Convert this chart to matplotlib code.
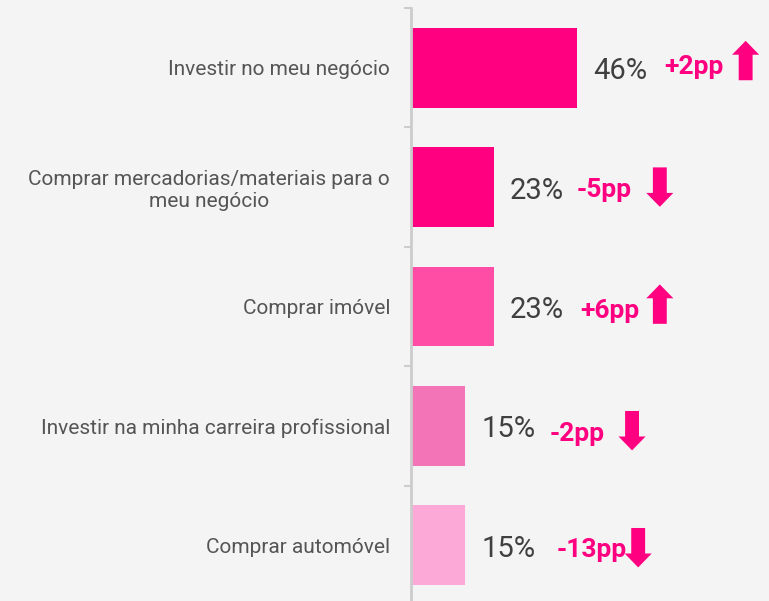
import matplotlib
matplotlib.use("Agg")
import matplotlib.pyplot as plt

# --> chart data
categories = ["Investir no meu negócio",
              "Comprar mercadorias/materiais para o\nmeu negócio",
              "Comprar imóvel",
              "Investir na minha carreira profissional",
              "Comprar automóvel"]
values = [46, 23, 23, 15, 15]
changes = ["+2pp", "-5pp", "+6pp", "-2pp", "-13pp"]
directions = [1, -1, 1, -1, -1]   # 1 = up arrow, -1 = down arrow
bar_colors = ["#FF0080", "#FF0080", "#FF4DA6", "#F474B8", "#FCA9D8"]

# --> hand placed annotation layout (data x, pixel y offsets)
change_x = [70.3, 45.9, 46.8, 38.4, 40.3]
change_dy = [6.5, 10, 12, 15, 12]
arrow_x = [92.8, 69.0, 69.0, 61.3, 63.0]
arrow_dy = [-0.06, 0.0, -0.02, 0.04, 0.02]

pink = "#FF0080"
bg = "#F4F4F4"

plt.rcParams['font.family'] = ['Roboto', 'DejaVu Sans']

fig = plt.figure(figsize=(7.69, 6.01), dpi=100, facecolor=bg)
ax = fig.add_axes([411 / 769, -4 / 601, 357 / 769, 597 / 601])
ax.set_facecolor(bg)

y = list(range(len(categories)))
ax.barh(y, values, height=0.67, color=bar_colors)

ax.set_xlim(0, 99)
ax.set_ylim(4.5, -0.5)

ax.set_yticks(y)
ax.set_yticklabels(categories, fontsize=15, color="#555555", multialignment="center")
ax.tick_params(axis="y", which="major", length=0, pad=15)
ax.set_yticks([i - 0.5 for i in range(len(categories) + 1)], minor=True)
ax.tick_params(axis="y", which="minor", length=5, width=1.5, color="#CCCCCC")
ax.set_xticks([])

for s in ["top", "right", "bottom"]:
    ax.spines[s].set_visible(False)
ax.spines["left"].set_color("#CCCCCC")
ax.spines["left"].set_linewidth(2)

for i, v in enumerate(values):
    ax.annotate(f"{v}%", xy=(v, i), xytext=(16, -11.5), textcoords="offset pixels",
                fontsize=21, color="#404040", va="baseline", ha="left")
    ax.annotate(changes[i], xy=(change_x[i], i), xytext=(0, -change_dy[i]),
                textcoords="offset pixels", fontsize=19, fontweight="bold",
                color=pink, va="baseline", ha="left")
    yc = i + arrow_dy[i]
    if directions[i] > 0:
        start, end = (arrow_x[i], yc + 0.165), (arrow_x[i], yc - 0.165)
    else:
        start, end = (arrow_x[i], yc - 0.165), (arrow_x[i], yc + 0.165)
    ax.annotate("", xy=end, xytext=start,
                arrowprops=dict(arrowstyle="simple,head_width=1.95,head_length=1.0,tail_width=1.0",
                                color=pink, mutation_scale=10, shrinkA=0, shrinkB=0, lw=0))

fig.savefig("out.png", dpi=100, facecolor=bg)
